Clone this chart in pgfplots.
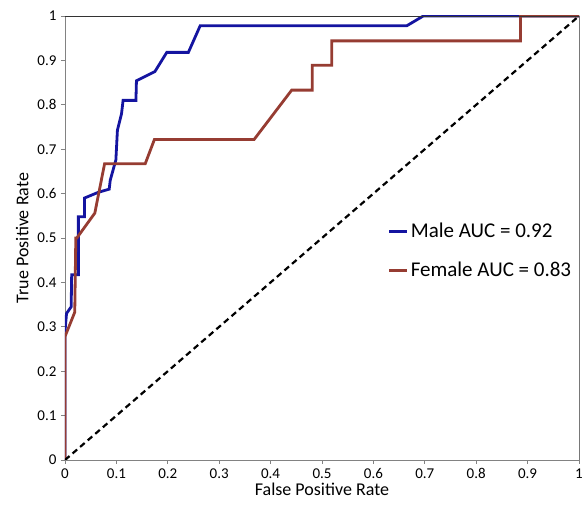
\documentclass[border=0pt]{standalone}
\usepackage{pgfplots}
\pgfplotsset{compat=1.18}
\usepackage{fontspec}
\setmainfont{Carlito}
\setsansfont{Carlito}

\definecolor{maleblue}{RGB}{20,20,160}
\definecolor{femalebrown}{RGB}{150,60,50}
\definecolor{axisgrey}{RGB}{130,130,130}

\begin{document}
\begin{tikzpicture}
\begin{axis}[
  scale only axis,
  width=514pt, height=444pt,
  xmin=0, xmax=1, ymin=0, ymax=1,
  xtick={0,0.1,...,1}, ytick={0,0.1,...,1},
  xticklabels={0,0.1,0.2,0.3,0.4,0.5,0.6,0.7,0.8,0.9,1},
  yticklabels={0,0.1,0.2,0.3,0.4,0.5,0.6,0.7,0.8,0.9,1},
  tick align=outside, tick pos=left,
  major tick length=4pt,
  tick style={axisgrey, line width=0.8pt},
  axis line style={axisgrey, line width=0.9pt},
  tick label style={font=\fontsize{15}{17}\selectfont},
  yticklabel style={xshift=-1pt},
  xticklabel style={yshift=-1pt},
  label style={font=\fontsize{18}{20}\selectfont},
  xlabel={False Positive Rate},
  ylabel={True Positive Rate},
  xlabel style={yshift=3pt},
  ylabel style={yshift=2pt},
  legend style={draw=none, fill=none, at={(0.628,0.538)}, anchor=north west,
    nodes={font=\fontsize{21}{24}\selectfont}, row sep=19pt, inner sep=0pt},
  legend cell align=left,
  legend image code/.code={\draw[#1] (0pt,0pt) -- (18pt,0pt);},
]
\addplot[maleblue, line width=2.8pt] coordinates {
  (0,0) (0,0.29) (0.003,0.33) (0.012,0.345) (0.013,0.417) (0.026,0.417)
  (0.026,0.548) (0.038,0.548) (0.038,0.59) (0.065,0.603) (0.086,0.61)
  (0.088,0.63) (0.099,0.676) (0.102,0.743) (0.110,0.78) (0.113,0.81)
  (0.138,0.81) (0.139,0.854) (0.175,0.875) (0.198,0.918) (0.24,0.918)
  (0.263,0.978) (0.665,0.978) (0.697,1) (1,1)
};
\addlegendentry{Male AUC = 0.92}
\addplot[femalebrown, line width=2.8pt] coordinates {
  (0,0) (0,0.278) (0.019,0.333) (0.021,0.5) (0.023,0.5) (0.058,0.556)
  (0.077,0.667) (0.156,0.667) (0.174,0.722) (0.368,0.722) (0.441,0.833)
  (0.481,0.833) (0.481,0.889) (0.519,0.889) (0.519,0.944) (0.886,0.944)
  (0.886,1) (1,1)
};
\addlegendentry{Female AUC = 0.83}
\addplot[black, line width=2.2pt, dash pattern=on 6pt off 4pt, forget plot] coordinates {(0,0) (1,1)};
\draw[black!80, line width=0.8pt] (rel axis cs:0,1) -- (rel axis cs:1,1) -- (rel axis cs:1,0);
\end{axis}
\pgfresetboundingbox
\path (current axis.south west)++(-65pt,-50pt) coordinate (bl);
\path (current axis.north east)++(7pt,16pt) coordinate (tr);
\path[use as bounding box] (bl) rectangle (tr);
\end{tikzpicture}
\end{document}
